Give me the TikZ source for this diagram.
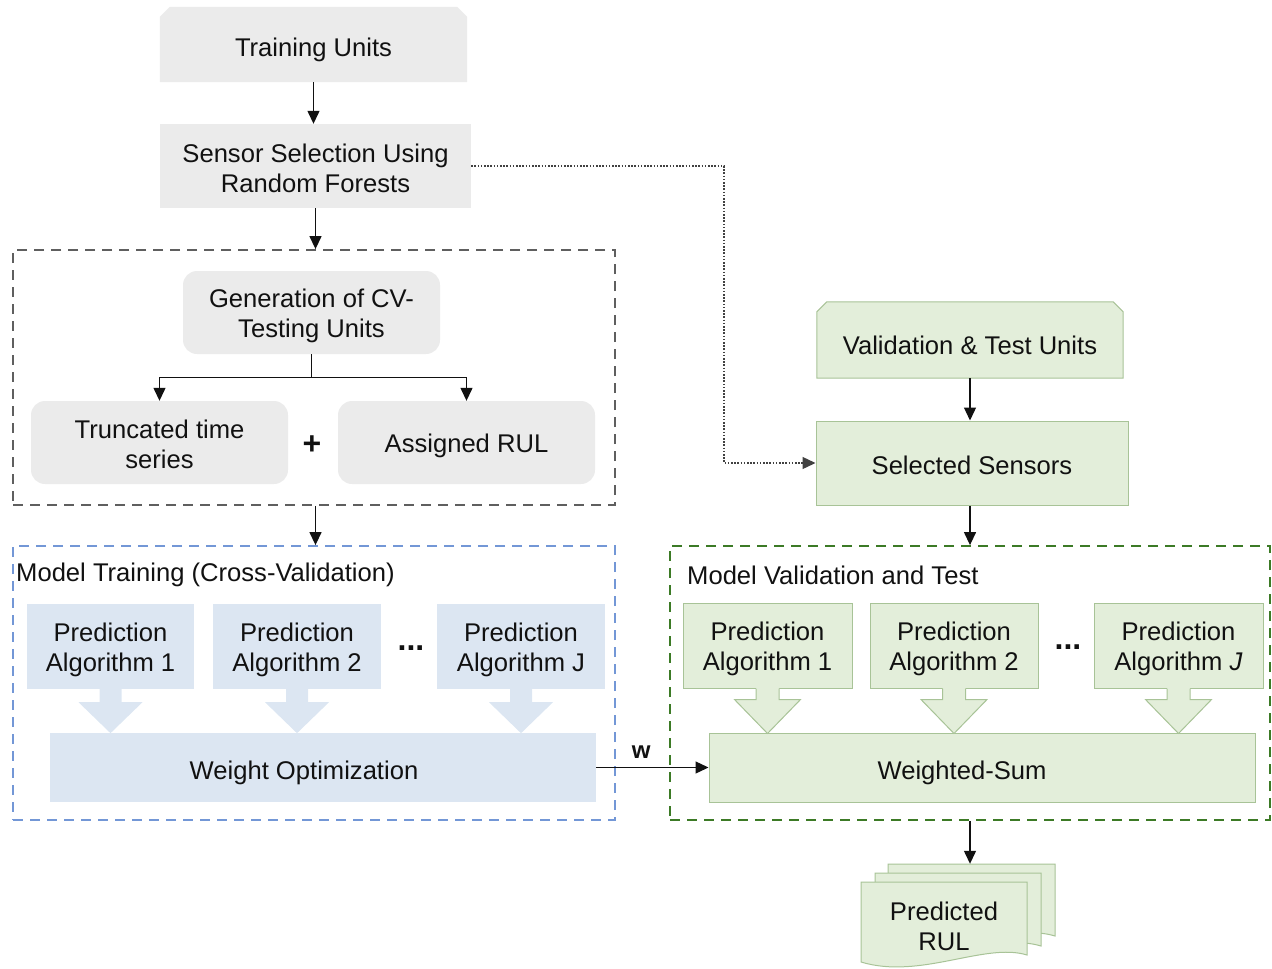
\documentclass[tikz,border=0pt]{standalone}
\usepackage{fontspec}
\setmainfont{Liberation Sans}
\usetikzlibrary{arrows.meta,backgrounds}

\definecolor{grayfill}{HTML}{EBEBEB}
\definecolor{bluefill}{HTML}{DCE6F2}
\definecolor{greenfill}{HTML}{E3EEDA}
\definecolor{greenline}{HTML}{A8C397}
\definecolor{graydash}{HTML}{5F5F5F}
\definecolor{bluedash}{HTML}{7397D6}
\definecolor{greendash}{HTML}{3C7A26}
\definecolor{ink}{HTML}{111111}

\tikzset{
  box/.style={inner sep=0pt},
  txt/.style={inner sep=0pt, align=center, text=ink},
  graybox/.style={box, fill=grayfill},
  roundgray/.style={graybox, rounded corners=14pt},
  bluebox/.style={box, fill=bluefill},
  greenbox/.style={box, fill=greenfill, draw=greenline, line width=1pt},
  dashbox/.style={inner sep=0pt, line width=1.8pt, dash pattern=on 10pt off 7pt},
  bigsym/.style={txt, font=\fontsize{32}{34}\selectfont\bfseries},
  conn/.style={line width=1.3pt, draw=ink, -{Triangle[length=13pt,width=12pt]}},
  dotconn/.style={line width=1.3pt, draw=ink!80, dash pattern=on 1.6pt off 1.6pt, -{Triangle[length=13pt,width=12pt]}},
  bluearrow/.pic={\fill[bluefill] (-11,-1) -- (11,-1) -- (11,13) -- (32,13) -- (0,44) -- (-32,13) -- (-11,13) -- cycle;},
  greenarrow/.pic={\fill[greenfill] (-11.5,-1) -- (11.5,-1) -- (11.5,11) -- (33,11) -- (0,45) -- (-33,11) -- (-11.5,11) -- cycle;
     \draw[greenline, line width=1pt, line join=miter] (-11.5,0) -- (-11.5,11) -- (-33,11) -- (0,45) -- (33,11) -- (11.5,11) -- (11.5,0);},
}

\begin{document}
\begin{tikzpicture}[x=1pt,y=-1pt,font=\fontsize{25.6}{30}\selectfont]
\useasboundingbox (0,0) rectangle (1272,969);

% ---------- left column ----------
\node[box, minimum width=307pt, minimum height=75pt] (tu) at (313.5,44.5) {};
\node[txt] (tut) at (313.5,50) {Training Units};
\node[graybox, minimum width=311pt, minimum height=84pt] (ss) at (315.5,166) {};
\node[txt] (sst) at (315.5,168) {Sensor Selection Using\\Random Forests};

\node[dashbox, draw=graydash, minimum width=602pt, minimum height=255pt] (cvbox) at (314,377.5) {};
\node[roundgray, minimum width=257pt, minimum height=83pt] (gen) at (311.5,312.5) {};
\node[txt] (gent) at (311.5,316) {Generation of CV-\\Testing Units};
\node[roundgray, minimum width=257pt, minimum height=83pt] (trunc) at (159.5,442.5) {};
\node[txt] (trunct) at (159.5,444) {Truncated time\\series};
\node[roundgray, minimum width=257pt, minimum height=83pt] (arul) at (466.5,442.5) {};
\node[txt] (arult) at (466.5,445.5) {Assigned RUL};
\node[bigsym] (plus) at (312,445) {+};

\node[dashbox, draw=bluedash, minimum width=602pt, minimum height=274pt] (trainbox) at (314,683) {};
\node[txt, anchor=west] (trainlbl) at (16,575) {Model Training (Cross-Validation)};
\node[bluebox, minimum width=167pt, minimum height=85pt] (pa1) at (110.5,646.5) {};
\node[txt] (pa1t) at (110.5,650) {Prediction\\Algorithm 1};
\node[bluebox, minimum width=168pt, minimum height=85pt] (pa2) at (297,646.5) {};
\node[txt] (pa2t) at (297,650) {Prediction\\Algorithm 2};
\node[bluebox, minimum width=168pt, minimum height=85pt] (paj) at (521,646.5) {};
\node[txt] (pajt) at (521,650) {Prediction\\Algorithm J};
\node[bigsym] (dots1) at (411,648) {...};
\node[bluebox, minimum width=546pt, minimum height=69pt] (wo) at (323,767.5) {};
\node[txt] (wot) at (304,772.5) {Weight Optimization};
\path (pa1.south) pic {bluearrow};
\path (pa2.south) pic {bluearrow};
\path (paj.south) pic {bluearrow};

% ---------- right column ----------
\node[box, minimum width=306pt, minimum height=76pt] (vtu) at (970,340) {};
\node[txt] (vtut) at (970,345.5) {Validation \& Test Units};
\node[greenbox, minimum width=312pt, minimum height=84pt] (sel) at (972,463) {};
\node[txt] (selt) at (972,465.5) {Selected Sensors};

\node[dashbox, draw=greendash, minimum width=600pt, minimum height=274pt] (valbox) at (970,683) {};
\node[txt, anchor=west] (vallbl) at (687,575) {Model Validation and Test};
\node[greenbox, minimum width=169pt, minimum height=85pt] (gp1) at (767.5,645.5) {};
\node[txt] (gp1t) at (767.5,649) {Prediction\\Algorithm 1};
\node[greenbox, minimum width=168pt, minimum height=85pt] (gp2) at (954,645.5) {};
\node[txt] (gp2t) at (954,649) {Prediction\\Algorithm 2};
\node[greenbox, minimum width=169pt, minimum height=85pt] (gpj) at (1178.5,645.5) {};
\node[txt] (gpjt) at (1178.5,649) {Prediction\\Algorithm \textit{J}};
\node[bigsym] (dots2) at (1068,647) {...};
\node[greenbox, minimum width=546pt, minimum height=69pt] (ws) at (982,767.5) {};
\node[txt] (wst) at (962,772.5) {Weighted-Sum};
\path (gp1.south) pic {greenarrow};
\path (gp2.south) pic {greenarrow};
\path (gpj.south) pic {greenarrow};

% chamfered boxes (background)
\begin{scope}[on background layer]
  \fill[grayfill] (tu.south west) -- ([yshift=-10pt]tu.north west) -- ([xshift=10pt]tu.north west)
     -- ([xshift=-10pt]tu.north east) -- ([yshift=-10pt]tu.north east) -- (tu.south east) -- cycle;
  \filldraw[fill=greenfill, draw=greenline, line width=1pt] (vtu.south west) -- ([yshift=-10pt]vtu.north west) -- ([xshift=10pt]vtu.north west)
     -- ([xshift=-10pt]vtu.north east) -- ([yshift=-10pt]vtu.north east) -- (vtu.south east) -- cycle;
\end{scope}

% ---------- Predicted RUL (multi-document) ----------
\node[box, minimum width=167pt, minimum height=72pt] (rulback) at (971.5,900) {};
\filldraw[fill=greenfill, draw=greenline, line width=1pt]
  (888,864) -- (1055,864) -- (1055,936) .. controls (1013,923) and (948,954) .. (888,940) -- cycle;
\filldraw[fill=greenfill, draw=greenline, line width=1pt]
  (875,873) -- (1041,873) -- (1041,946) .. controls (999,933) and (934,964) .. (875,951) -- cycle;
\filldraw[fill=greenfill, draw=greenline, line width=1pt]
  (861,882) -- (1027,882) -- (1027,955) .. controls (985,942) and (920,980) .. (861,962) -- cycle;
\node[txt] (rul) at (944,926) {Predicted\\RUL};

% ---------- connectors ----------
\draw[conn] (tu.south) -- (tu.south |- ss.north);
\draw[conn] (ss.south) -- (ss.south |- cvbox.north);
\draw[line width=1.3pt, draw=ink] (gen.south) -- ++(0,23) coordinate (split);
\draw[conn] (split) -| (trunc.north);
\draw[conn] (split) -| (arul.north);
\draw[conn] (ss.south |- cvbox.south) -- (ss.south |- trainbox.north);
\coordinate (bend) at (724,166);
\draw[dotconn] (ss.east) -- (bend) |- (sel.west);
\draw[conn] (vtu.south) -- (vtu.south |- sel.north);
\draw[conn] (vtu.south |- sel.south) -- (vtu.south |- valbox.north);
\draw[conn] (wo.east) -- node[pos=0.4, above=5pt, font=\fontsize{24}{28}\selectfont\bfseries, text=ink] (wlbl) {w} (ws.west);
\draw[conn] (valbox.south) -- (valbox.south |- rulback.north);
\end{tikzpicture}
\end{document}
